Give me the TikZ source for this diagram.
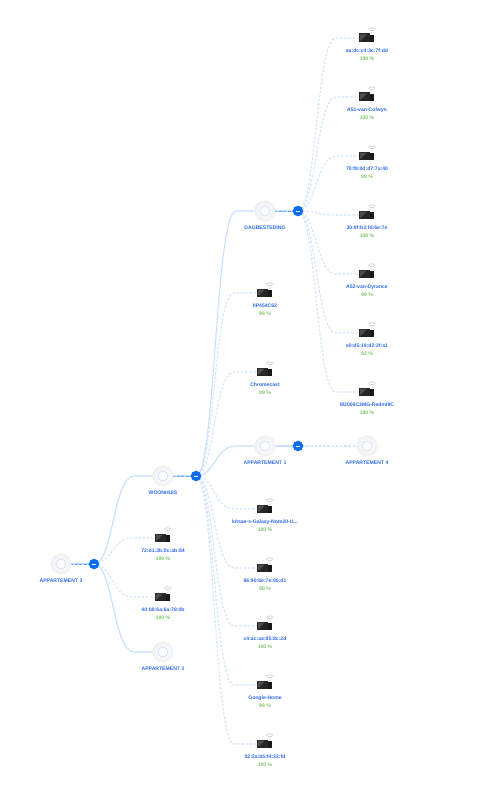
\documentclass[tikz,border=0pt]{standalone}
\usepackage{fontspec}
\setmainfont{Liberation Sans}
\usetikzlibrary{calc,backgrounds}
\definecolor{linkc}{HTML}{C8E0FF}
\definecolor{dashc}{HTML}{D0E5FF}
\definecolor{stemc}{HTML}{5FA6F8}
\definecolor{tog}{HTML}{0B6EF0}
\definecolor{lab}{HTML}{2F6BF2}
\definecolor{pct}{HTML}{7CC46A}
\definecolor{wifi}{HTML}{C4C4C4}
\pgfdeclareradialshading{apshade}{\pgfpointorigin}{color(0bp)=(white);color(8bp)=(gray!3);color(22bp)=(gray!10);color(32bp)=(gray!22);color(50bp)=(gray!24)}
\tikzset{
  x=1pt,y=-1pt,
  sroute/.style={to path={let \p1=(\tikztostart),\p2=(\tikztotarget) in
     .. controls (\x1+#1*0.48,\y1) and (\x1+#1*0.48,\y2) .. (\x1+#1,\y2) -- (\tikztotarget)}},
  solidlink/.style={draw=linkc,line width=1.1pt,sroute=40},
  dashlink/.style={draw=dashc,line width=1.1pt,dash pattern=on 2.4pt off 1.8pt,sroute=38},
  stembase/.style={draw=linkc,line width=1.8pt},
  stemdash/.style={draw=stemc,line width=1pt,dash pattern=on 3pt off 1.5pt},
  apnode/.style={circle,minimum size=21pt,inner sep=0pt,shading=apshade},
  togglenode/.style={circle,fill=tog,minimum size=10.5pt,inner sep=0pt,
     path picture={\draw[white,line width=0.9pt] ($(path picture bounding box.center)+(-2,0)$)--($(path picture bounding box.center)+(2,0)$);}},
  devnode/.style={rectangle,minimum width=15pt,minimum height=9pt,inner sep=0pt},
  nametext/.style={text=lab,font=\bfseries\fontsize{5.1}{6}\selectfont,inner sep=0pt,anchor=center},
  pcttext/.style={text=pct,font=\bfseries\fontsize{5.1}{6}\selectfont,inner sep=0pt,anchor=center},
}
% \apn{name}{x}{y}{label}
\newcommand{\apn}[4]{%
  \node[apnode] (#1) at (#2,#3) {};
  \draw[linkc,line width=0.6pt] (#1.center) circle[radius=5pt];
  \node[nametext] (#1-l) at (#2,#3+17) {#4};
}
% \dev{name}{x}{y}{label}{percent}
\newcommand{\dev}[5]{%
  \node[devnode] (#1) at (#2-0.5,#3+4) {};
  \fill[black!85] ($(#1.center)+(-7.5,-4.5)$) rectangle ($(#1.center)+(3.5,4)$);
  \fill[black!70] ($(#1.center)+(-6.3,-3.5)$) -- ($(#1.center)+(0.5,-3.5)$) -- ($(#1.center)+(-6.3,3)$) -- cycle;
  \fill[black!90] ($(#1.center)+(3,-3)$) rectangle ($(#1.center)+(7.2,4.4)$);
  \draw[wifi,line width=0.6pt] ($(#1.center)+(1.9,-8.6)$) arc[start angle=140,end angle=40,radius=4.6pt];
  \draw[wifi,line width=0.6pt] ($(#1.center)+(3.2,-6.9)$) arc[start angle=140,end angle=40,radius=3pt];
  \fill[wifi] ($(#1.center)+(5.5,-5)$) circle[radius=0.7pt];
  \node[nametext] (#1-l) at (#2,#3+17) {#4};
  \node[pcttext] (#1-p) at (#2,#3+24.5) {#5 \%};
}
\newcommand{\tgl}[3]{\node[togglenode] (#1) at (#2,#3) {};}
\begin{document}
\begin{tikzpicture}
\useasboundingbox (0,0) rectangle (499,789);
% access points
\apn{ap3}{61}{564}{APPARTEMENT 3}
\apn{woon}{163}{476}{WOONHUIS}
\apn{ap2}{163}{652}{APPARTEMENT 2}
\apn{dag}{265}{211}{DAGBESTEDING}
\apn{ap1}{265}{446}{APPARTEMENT 1}
\apn{ap4}{367}{446}{APPARTEMENT 4}
% toggles
\tgl{t3}{94}{564}
\tgl{tw}{196}{476}
\tgl{td}{298}{211}
\tgl{ta}{298}{446}
% devices
\dev{a1}{367}{34}{aa:dc:c4:3c:7f:dd}{100}
\dev{a2}{367}{93}{A51-van-Colwyn}{100}
\dev{a3}{367}{152}{70:f8:0d:d7:7a:40}{99}
\dev{a4}{367}{211}{30:9f:b3:fd:6e:7e}{100}
\dev{a5}{367}{270}{A52-van-Dyrance}{99}
\dev{a6}{367}{329}{e0:d5:19:d2:2f:a1}{93}
\dev{a7}{367}{388}{M2006C3MG-RedmI9C}{100}
\dev{b1}{265}{289}{IIP454C62}{99}
\dev{b2}{265}{368}{Chromecast}{99}
\dev{b3}{265}{505}{kitsae-s-Galaxy-Note20-U...}{100}
\dev{b4}{265}{564}{86:90:6e:7e:95:d1}{90}
\dev{b5}{265}{622}{c4:ac:aa:85:8c:2d}{100}
\dev{b6}{265}{681}{Google-Home}{99}
\dev{b7}{265}{740}{02:2a:b5:f4:32:fd}{100}
\dev{c1}{163}{534}{72:d1:3b:0c:ab:84}{100}
\dev{c2}{163}{593}{40:b8:6a:6a:78:0b}{100}
\begin{pgfonlayer}{background}
\fill[white] (0,0) rectangle (499,789);
% dashed links
\foreach \d in {a1,a2,a3,a4,a5,a6,a7} \draw[dashlink] (td.center) to (\d.west);
\foreach \d in {b1,b2,b3,b4,b5,b6,b7} \draw[dashlink] (tw.center) to (\d.west);
\foreach \d in {c1,c2} \draw[dashlink] (t3.center) to (\d.west);
\draw[dashlink] (ta.center) to (ap4.center);
% solid links
\draw[solidlink] (t3.center) to (woon.center);
\draw[solidlink] (t3.center) to (ap2.center);
\draw[solidlink] (tw.center) to (dag.center);
\draw[solidlink] (tw.center) to (ap1.center);
% stems
\foreach \s/\t in {ap3/t3,woon/tw,dag/td}{
  \draw[stembase] (\s.center) -- (\t.center);
  \draw[stemdash] (\s.center) -- (\t.center);
}
\draw[linkc,line width=1.1pt] (ap1.center) -- (ta.center);
\end{pgfonlayer}
\end{tikzpicture}
\end{document}
